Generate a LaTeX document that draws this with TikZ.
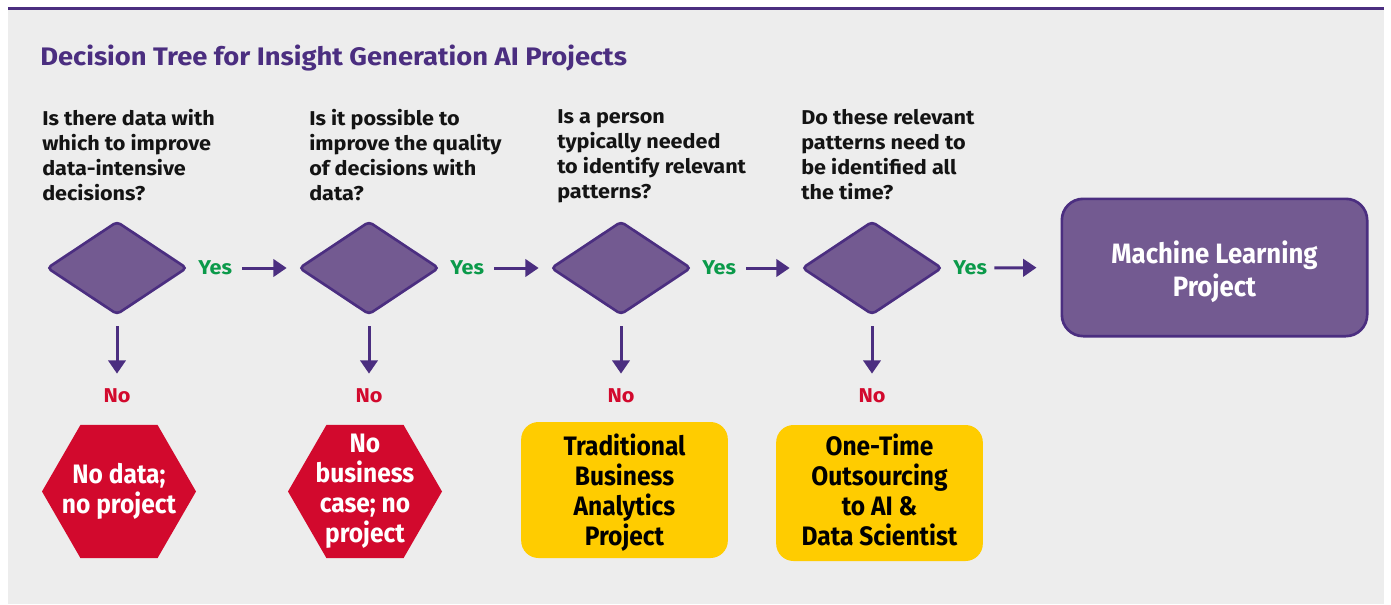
\documentclass[tikz,border=0pt]{standalone}
\usepackage{fontspec}
\setmainfont[FakeStretch=1.08]{Fira Sans}
\newfontfamily\condfont[FakeStretch=0.92]{Fira Sans}
\usetikzlibrary{shapes.geometric,arrows.meta}
\definecolor{bgc}{HTML}{EDEDED}
\definecolor{pfill}{HTML}{735A91}
\definecolor{pdark}{HTML}{4B2E80}
\definecolor{redc}{HTML}{D2092D}
\definecolor{yel}{HTML}{FFCC00}
\definecolor{grn}{HTML}{0B9A4A}
\definecolor{txt}{HTML}{141414}
\tikzset{
  qtext/.style={anchor=north west, align=left, inner sep=0pt, text=txt,
    font=\bfseries\fontsize{15}{18.75}\selectfont},
  dia/.style={diamond, draw=pdark, fill=pfill, line width=2pt, inner sep=0pt,
    minimum width=105pt, minimum height=70pt, rounded corners=3pt},
  yeslab/.style={anchor=west, inner sep=0pt, text=grn, font=\bfseries\fontsize{15}{18}\selectfont},
  nolab/.style={inner sep=0pt, text=redc, font=\bfseries\fontsize{15}{18}\selectfont},
  arr/.style={draw=pdark, line width=2.25pt, -{Triangle[length=10pt,width=13pt]}},
  hexa/.style={regular polygon, regular polygon sides=6, minimum size=115.5pt, fill=redc, inner sep=0pt},
  boxtext/.style={align=center, inner sep=0pt, font=\condfont\bfseries\fontsize{20}{22.5}\selectfont},
  hext/.style={boxtext, text=white},
  ytext/.style={boxtext, text=black},
  ybox/.style={rounded corners=13pt, fill=yel, inner sep=0pt, minimum width=155pt, minimum height=102pt},
  mlbox/.style={rounded corners=16pt, fill=pfill, draw=pdark, line width=2pt, inner sep=0pt,
    minimum width=229pt, minimum height=103pt},
  mltext/.style={boxtext, text=white, font=\condfont\bfseries\fontsize{21}{24.5}\selectfont},
}
\begin{document}
\begin{tikzpicture}[x=0.75pt,y=-0.75pt]
\useasboundingbox (0,0) rectangle (1391,604);
\fill[bgc] (8,8) rectangle (1384,604);
\draw[pdark, line width=2.25pt] (8,8) -- (1384,8);

\node[anchor=base west, inner sep=0pt, text=pdark, font=\bfseries\fontsize{19}{22}\selectfont] (title) at (40,65)
  {Decision Tree for Insight Generation AI Projects};

\node[qtext] (q1) at (42,109) {Is there data with\\which to improve\\data-intensive\\decisions?};
\node[qtext] (q2) at (309,109) {Is it possible to\\improve the quality\\of decisions with\\data?};
\node[qtext] (q3) at (557,109) {Is a person\\typically needed\\to identify relevant\\patterns?};
\node[qtext] (q4) at (801,109) {Do these relevant\\patterns need to\\be identified all\\the time?};

\node[dia] (d1) at (117,268) {};
\node[dia] (d2) at (369,268) {};
\node[dia] (d3) at (621,268) {};
\node[dia] (d4) at (872,268) {};

\node[yeslab] (y1) at (198,268) {Yes};
\node[yeslab] (y2) at (450,268) {Yes};
\node[yeslab] (y3) at (702,268) {Yes};
\node[yeslab] (y4) at (953,268) {Yes};

\node[mlbox] (ml) at (1214.5,267.5) {};
\node[mltext] (mlt) at (1214.5,272) {Machine Learning\\Project};

\draw[arr, shorten <=10*0.75pt, shorten >=11*0.75pt] (y1.east) -- (d2.west);
\draw[arr, shorten <=10*0.75pt, shorten >=11*0.75pt] (y2.east) -- (d3.west);
\draw[arr, shorten <=10*0.75pt, shorten >=11*0.75pt] (y3.east) -- (d4.west);
\draw[arr, shorten <=7*0.75pt, shorten >=24*0.75pt] (y4.east) -- (ml.west);

\node[nolab] (n1) at (117,396) {No};
\node[nolab] (n2) at (369,396) {No};
\node[nolab] (n3) at (621,396) {No};
\node[nolab] (n4) at (872,396) {No};

\foreach \d/\n in {d1/n1,d2/n2,d3/n3,d4/n4}
  \draw[arr, shorten <=10*0.75pt, shorten >=15*0.75pt] (\d.south) -- (\n.north);

\node[hexa] (h1) at (119,491.5) {};
\node[hext] (h1t) at (119,491.5) {No data;\\no project};
\node[hexa] (h2) at (365,491.5) {};
\node[hext] (h2t) at (365,491.5) {No\\business\\case; no\\project};

\node[ybox] (b1) at (624.5,490) {};
\node[ytext] (b1t) at (624.5,493) {Traditional\\Business\\Analytics\\Project};
\node[ybox] (b2) at (879.5,493) {};
\node[ytext] (b2t) at (879.5,490) {One-Time\\Outsourcing\\to AI \&\\Data Scientist};
\end{tikzpicture}
\end{document}
